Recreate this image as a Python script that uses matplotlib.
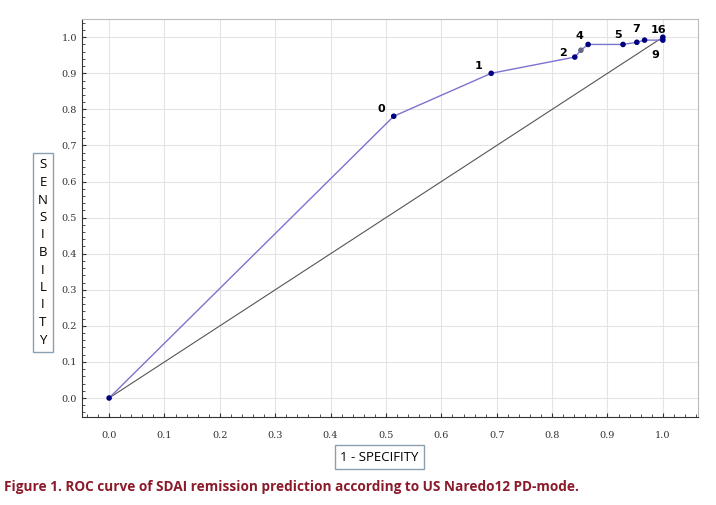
import matplotlib
matplotlib.use("Agg")
import matplotlib.pyplot as plt
from matplotlib.ticker import MultipleLocator

# ROC-Punkte (1 - Spezifität, Sensitivität) mit Schwellenwert-Labels
fpr = [0.0, 0.514, 0.69, 0.841, 0.852, 0.865, 0.928, 0.953, 0.967, 1.0, 1.0]
tpr = [0.0, 0.781, 0.90, 0.945, 0.964, 0.98, 0.98, 0.986, 0.992, 0.992, 1.0]
labels = ["", "0", "1", "2", "", "4", "5", "", "7", "9", "16"]
ticks = [0.0, 0.1, 0.2, 0.3, 0.4, 0.5, 0.6, 0.7, 0.8, 0.9, 1.0]

fig = plt.figure(figsize=(7.16, 5.05), dpi=100)
ax = fig.add_axes([0.1145, 0.174, 0.860, 0.788])

ax.plot([0, 1], [0, 1], color="#555555", linewidth=0.8)
ax.plot(fpr, tpr, color="#7b73d0", linewidth=1.0)
cols = ["#000080"] * len(fpr)
cols[4] = "#666688"
ax.scatter(fpr, tpr, s=9, color=cols, zorder=3)

# Beschriftungen der Punkte
offs = {"0": (-12, 3), "1": (-12, 3), "2": (-11, 1), "4": (-9, 4), "5": (-6, 5),
        "7": (-9, 6), "16": (-9, 3), "9": (-8, -13)}
for x, y, t in zip(fpr, tpr, labels):
    if t:
        ax.annotate(t, (x, y), xytext=offs[t], textcoords="offset points",
                    fontsize=8, fontweight="bold")

ax.set_xlim(-0.049, 1.063)
ax.set_ylim(-0.053, 1.05)
ax.set_xticks(ticks)
ax.set_yticks(ticks)
ax.set_xticklabels([f"{t:.1f}" for t in ticks], fontsize=7, fontfamily="DejaVu Serif", color="#333333")
ax.set_yticklabels([f"{t:.1f}" for t in ticks], fontsize=7, fontfamily="DejaVu Serif", color="#333333")
ax.xaxis.set_minor_locator(MultipleLocator(0.02))
ax.yaxis.set_minor_locator(MultipleLocator(0.02))
ax.tick_params(which="both", direction="in", length=3, color="#333333")
ax.tick_params(which="minor", length=2)
ax.tick_params(axis="x", pad=10)
ax.grid(True, color="#e4e4e4", linewidth=0.8)
ax.set_axisbelow(True)
for s in ["top", "right"]:
    ax.spines[s].set_color("#bbbbbb")
for s in ["left", "bottom"]:
    ax.spines[s].set_color("#333333")

box = dict(boxstyle="square,pad=0.4", facecolor="white", edgecolor="#8aa0b0")
fig.text(0.53, 0.095, "1 - SPECIFITY", ha="center", va="center", fontsize=9.5,
         fontfamily="Open Sans", bbox=box)
fig.text(0.060, 0.50, "\n".join("SENSIBILITY"), ha="center", va="center", fontsize=9.5,
         fontfamily="Open Sans", linespacing=1.45, bbox=box)
fig.text(0.005, 0.028, "Figure 1. ROC curve of SDAI remission prediction according to US Naredo12 PD-mode.",
         fontsize=9.8, fontweight="bold", color="#8b1a2b", fontfamily="Open Sans")

fig.savefig("out.png", dpi=100)
